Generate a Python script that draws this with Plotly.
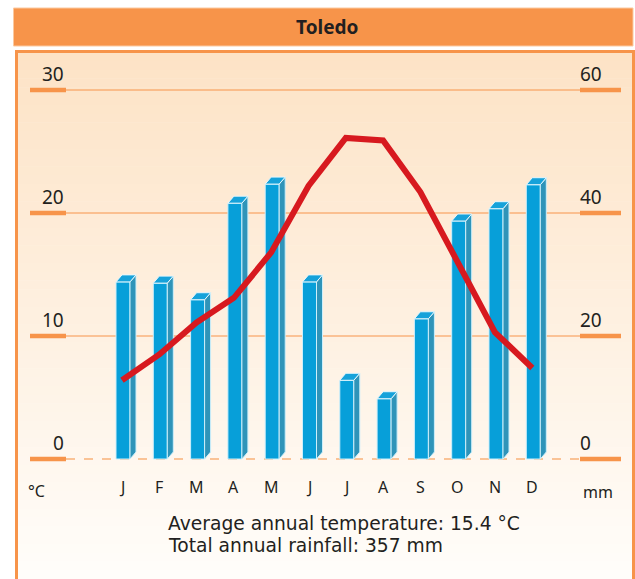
import plotly.graph_objects as go

# ---------------- data ----------------
months = ["J", "F", "M", "A", "M", "J", "J", "A", "S", "O", "N", "D"]
temperature_c = [6.4, 8.5, 11.1, 13.1, 16.8, 22.2, 26.1, 25.9, 21.7, 16.0, 10.3, 7.4]
rainfall_mm = [28.8, 28.6, 25.9, 41.6, 44.7, 28.8, 12.8, 9.8, 22.8, 38.7, 40.7, 44.6]
temp_ticks = [0, 10, 20, 30]
rain_ticks = [0, 20, 40, 60]
title_text = "Toledo"
footer_lines = ["Average annual temperature: 15.4 °C", "Total annual rainfall: 357 mm"]

# ---------------- geometry / style ----------------
W, H = 635, 579
X0_PX, DX_PX = 122.0, 37.3       # pixel of first month, spacing
Y0_PX, PX_PER_C = 459.0, 12.3    # pixel of zero line, px per degree
PX_PER_MM = PX_PER_C / 2.0

def px2x(px):
    return (px - X0_PX) / DX_PX

def py2paper(py):
    return 1 - py / H

def px2paper(px):
    return px / W

x_range = [px2x(0), px2x(W)]
t_range = [(Y0_PX - H) / PX_PER_C, Y0_PX / PX_PER_C]
r_range = [(Y0_PX - H) / PX_PER_MM, Y0_PX / PX_PER_MM]

ORANGE = "#F7944A"
TEXT = "#231F20"
FONT = "Noto Sans"
FONT2 = "DejaVu Sans"

bar_w = 14.0 / DX_PX
bar_off = 1.0 / DX_PX
depth_x = 6.0 / DX_PX
depth_y = 7.0 / PX_PER_MM

xs = list(range(len(months)))

fig = go.Figure()

# front faces
fig.add_trace(go.Bar(
    x=[i + bar_off for i in xs], y=rainfall_mm, width=bar_w,
    marker=dict(color="#079FD9", line=dict(color="#CDEFFB", width=1)),
    yaxis="y", xaxis="x", hoverinfo="skip", showlegend=False,
))

# side faces and top faces computed from data
side_x, side_y, top_x, top_y = [], [], [], []
for i, h in zip(xs, rainfall_mm):
    xl = i + bar_off - bar_w / 2
    xr = i + bar_off + bar_w / 2
    side_x += [xr, xr + depth_x, xr + depth_x, xr, xr, None]
    side_y += [0, depth_y, h + depth_y, h, 0, None]
    top_x += [xl, xl + depth_x, xr + depth_x, xr, xl, None]
    top_y += [h, h + depth_y, h + depth_y, h, h, None]

fig.add_trace(go.Scatter(
    x=side_x, y=side_y, mode="lines", fill="toself",
    fillcolor="#2F94B9", line=dict(color="#CDEFFB", width=1),
    yaxis="y", hoverinfo="skip", showlegend=False,
))
fig.add_trace(go.Scatter(
    x=top_x, y=top_y, mode="lines", fill="toself",
    fillcolor="#16A2DA", line=dict(color="#E6F7FD", width=1),
    yaxis="y", hoverinfo="skip", showlegend=False,
))

# temperature line (on overlaying axis so it draws on top)
fig.add_trace(go.Scatter(
    x=xs, y=temperature_c, mode="lines",
    line=dict(color="#D7191F", width=6),
    yaxis="y2", hoverinfo="skip", showlegend=False,
))

shapes = []
# gradient background of the panel
top_c = (253, 227, 198)
bot_c = (255, 253, 250)
y_start, y_end = 52, H
n = 60
for k in range(n):
    a = y_start + (y_end - y_start) * k / n
    b = y_start + (y_end - y_start) * (k + 1) / n
    f = k / (n - 1)
    c = tuple(round(top_c[j] + (bot_c[j] - top_c[j]) * f) for j in range(3))
    shapes.append(dict(type="rect", xref="paper", yref="paper",
                       x0=px2paper(16), x1=px2paper(633), y0=py2paper(b + 0.5), y1=py2paper(a),
                       fillcolor="rgb(%d,%d,%d)" % c, line=dict(width=0), layer="below"))
# panel border
shapes.append(dict(type="rect", xref="paper", yref="paper",
                   x0=px2paper(16.5), x1=px2paper(633.5), y0=-0.05, y1=py2paper(51.5),
                   fillcolor="rgba(0,0,0,0)", line=dict(color=ORANGE, width=3), layer="below"))
# title bar
shapes.append(dict(type="rect", xref="paper", yref="paper",
                   x0=px2paper(13.5), x1=px2paper(633), y0=py2paper(46), y1=py2paper(8),
                   fillcolor=ORANGE, line=dict(color="#FBC9A0", width=1), layer="below"))

# gridlines and tick marks
for t in temp_ticks:
    if t == 0:
        shapes.append(dict(type="line", xref="paper", yref="y2",
                           x0=px2paper(66), x1=px2paper(580), y0=t, y1=t,
                           line=dict(color="#F9B27A", width=1.5, dash="dash"), layer="below"))
    else:
        shapes.append(dict(type="line", xref="paper", yref="y2",
                           x0=px2paper(66), x1=px2paper(580), y0=t, y1=t,
                           line=dict(color=ORANGE, width=1), layer="below"))
    shapes.append(dict(type="line", xref="paper", yref="y2",
                       x0=px2paper(30), x1=px2paper(66), y0=t, y1=t,
                       line=dict(color=ORANGE, width=4.5), layer="below"))
    shapes.append(dict(type="line", xref="paper", yref="y2",
                       x0=px2paper(580), x1=px2paper(621), y0=t, y1=t,
                       line=dict(color=ORANGE, width=4.5), layer="below"))

annotations = []
for t in temp_ticks:
    annotations.append(dict(x=px2paper(66), xref="paper", y=t, yref="y2",
                            text=str(t), showarrow=False, xanchor="right", yanchor="bottom",
                            yshift=1, font=dict(family=FONT, size=19, color=TEXT)))
for r in rain_ticks:
    annotations.append(dict(x=px2paper(578), xref="paper", y=r, yref="y",
                            text=str(r), showarrow=False, xanchor="left", yanchor="bottom",
                            yshift=1, font=dict(family=FONT, size=19, color=TEXT)))
for i, m in zip(xs, months):
    annotations.append(dict(x=i, xref="x", y=0, yref="y2", text=m, showarrow=False,
                            xanchor="center", yanchor="middle", yshift=-28,
                            font=dict(family=FONT, size=16, color=TEXT)))
annotations.append(dict(x=px2paper(36), xref="paper", y=py2paper(491), yref="paper",
                        text="°C", showarrow=False, xanchor="center", yanchor="middle",
                        font=dict(family=FONT, size=16, color=TEXT)))
annotations.append(dict(x=px2paper(598), xref="paper", y=py2paper(492), yref="paper",
                        text="mm", showarrow=False, xanchor="center", yanchor="middle",
                        font=dict(family=FONT, size=16, color=TEXT)))
annotations.append(dict(x=px2paper(327), xref="paper", y=py2paper(27), yref="paper",
                        text="<b>%s</b>" % title_text, showarrow=False, xanchor="center",
                        yanchor="middle", font=dict(family=FONT, size=19, color=TEXT)))
for k, line in enumerate(footer_lines):
    annotations.append(dict(x=px2paper(166), xref="paper", y=py2paper(523 + 22 * k), yref="paper",
                            text=line, showarrow=False, xanchor="left", yanchor="middle",
                            font=dict(family=FONT2, size=18.7, color=TEXT)))

fig.update_layout(
    width=W, height=H,
    margin=dict(l=0, r=0, t=0, b=0),
    paper_bgcolor="white", plot_bgcolor="rgba(0,0,0,0)",
    xaxis=dict(range=x_range, domain=[0, 1], visible=False, fixedrange=True),
    yaxis=dict(range=r_range, domain=[0, 1], visible=False, fixedrange=True),
    yaxis2=dict(range=t_range, overlaying="y", visible=False, fixedrange=True),
    shapes=shapes, annotations=annotations,
    bargap=0, showlegend=False, hovermode=False,
)

fig.write_html("out.html", config={"displayModeBar": False, "staticPlot": True},
               post_script="document.body.style.margin='0';document.body.style.overflow='hidden';")
